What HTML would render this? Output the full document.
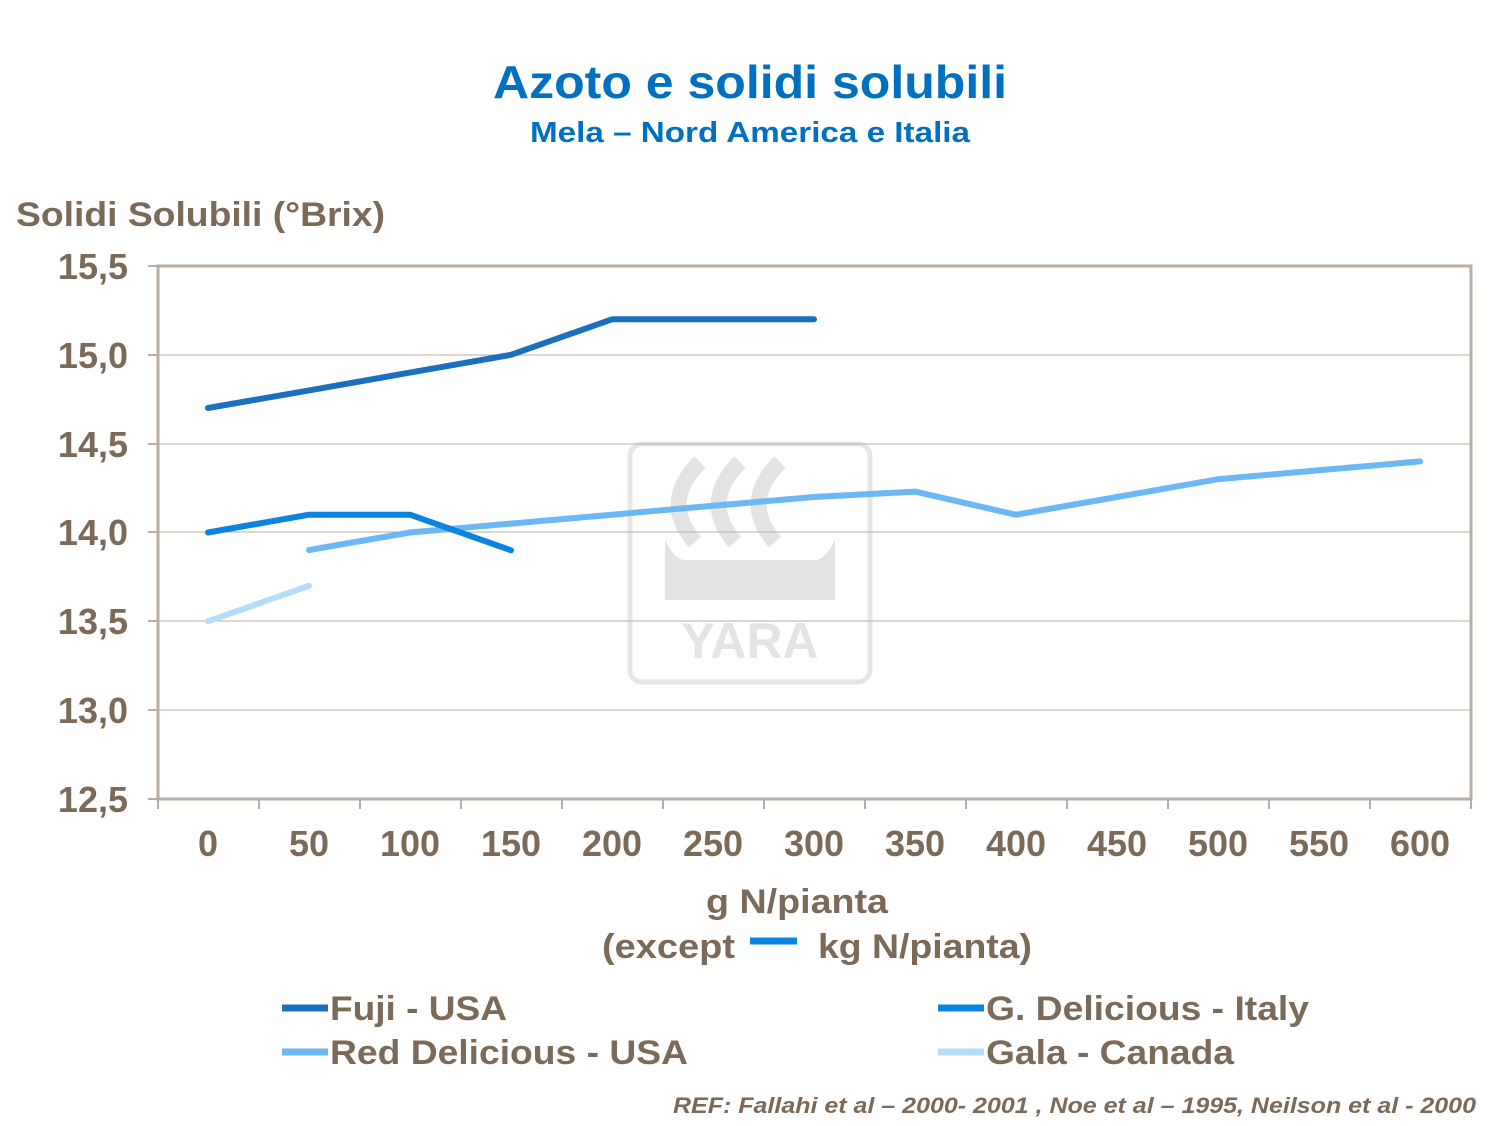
<!DOCTYPE html>
<html><head><meta charset="utf-8"><style>
body{margin:0;background:#fff;}
svg{display:block;font-family:"Liberation Sans",Arial,sans-serif;font-weight:bold;}
</style></head><body>
<svg width="1500" height="1126" viewBox="0 0 1500 1126">
<text x="493" y="98" font-size="46" fill="#0070C0" textLength="514" lengthAdjust="spacingAndGlyphs">Azoto e solidi solubili</text>
<text x="530" y="142" font-size="29" fill="#0070C0" textLength="440" lengthAdjust="spacingAndGlyphs">Mela – Nord America  e Italia</text>
<text x="16" y="226" font-size="34" fill="#7b6a58" textLength="369" lengthAdjust="spacingAndGlyphs">Solidi Solubili (°Brix)</text>
<!-- watermark -->
<g opacity="0.9">
<rect x="630" y="444" width="240" height="238" rx="12" fill="none" stroke="#e4e4e4" stroke-width="5"/>
<path d="M700 462 q-40 40 -5 80" stroke="#e0e0e0" stroke-width="16" fill="none"/>
<path d="M740 462 q-40 40 -5 80" stroke="#e0e0e0" stroke-width="16" fill="none"/>
<path d="M780 462 q-40 40 -5 80" stroke="#e0e0e0" stroke-width="16" fill="none"/>
<path d="M665 540 q10 20 20 20 l130 0 q10 0 20 -20 l0 60 l-170 0 z" fill="#e0e0e0"/>
<text x="750" y="658" text-anchor="middle" font-size="50" fill="#e2e2e2">YARA</text>
</g>
<!-- grid -->
<g stroke="#b8ada0" stroke-width="1">
<line x1="158" y1="355" x2="1471" y2="355"/>
<line x1="158" y1="444" x2="1471" y2="444"/>
<line x1="158" y1="532" x2="1471" y2="532"/>
<line x1="158" y1="621" x2="1471" y2="621"/>
<line x1="158" y1="710" x2="1471" y2="710"/>
</g>
<rect x="158" y="266" width="1313" height="533" fill="none" stroke="#b8ada0" stroke-width="3"/>
<g stroke="#b8ada0" stroke-width="2">
<line x1="148" y1="266" x2="158" y2="266"/><line x1="148" y1="355" x2="158" y2="355"/><line x1="148" y1="444" x2="158" y2="444"/><line x1="148" y1="532" x2="158" y2="532"/><line x1="148" y1="621" x2="158" y2="621"/><line x1="148" y1="710" x2="158" y2="710"/><line x1="148" y1="799" x2="158" y2="799"/>
<line x1="158" y1="799" x2="158" y2="809"/><line x1="259" y1="799" x2="259" y2="809"/><line x1="360" y1="799" x2="360" y2="809"/><line x1="461" y1="799" x2="461" y2="809"/><line x1="562" y1="799" x2="562" y2="809"/><line x1="663" y1="799" x2="663" y2="809"/><line x1="764" y1="799" x2="764" y2="809"/><line x1="865" y1="799" x2="865" y2="809"/><line x1="966" y1="799" x2="966" y2="809"/><line x1="1067" y1="799" x2="1067" y2="809"/><line x1="1168" y1="799" x2="1168" y2="809"/><line x1="1269" y1="799" x2="1269" y2="809"/><line x1="1370" y1="799" x2="1370" y2="809"/><line x1="1471" y1="799" x2="1471" y2="809"/>
</g>
<g font-size="36" fill="#7b6a58" text-anchor="end">
<text x="128" y="279">15,5</text><text x="128" y="368">15,0</text><text x="128" y="457">14,5</text><text x="128" y="545">14,0</text><text x="128" y="634">13,5</text><text x="128" y="723">13,0</text><text x="128" y="812">12,5</text>
</g>
<g font-size="36" fill="#7b6a58" text-anchor="middle">
<text x="208" y="856">0</text><text x="309" y="856">50</text><text x="410" y="856">100</text><text x="511" y="856">150</text><text x="612" y="856">200</text><text x="713" y="856">250</text><text x="814" y="856">300</text><text x="915" y="856">350</text><text x="1016" y="856">400</text><text x="1117" y="856">450</text><text x="1218" y="856">500</text><text x="1319" y="856">550</text><text x="1420" y="856">600</text>
</g>
<text x="706" y="913" font-size="34" fill="#7b6a58" textLength="182" lengthAdjust="spacingAndGlyphs">g N/pianta</text>
<text x="602" y="958" font-size="34" fill="#7b6a58" textLength="133" lengthAdjust="spacingAndGlyphs">(except</text>
<line x1="750" y1="941" x2="797" y2="941" stroke="#0a84e0" stroke-width="7"/>
<text x="818" y="958" font-size="34" fill="#7b6a58" textLength="214" lengthAdjust="spacingAndGlyphs">kg N/pianta)</text>
<!-- series -->
<g fill="none" stroke-width="6" stroke-linejoin="round" stroke-linecap="round">
<polyline stroke="#6cb8f5" points="309,550 410,532.5 511,523.6 612,514.7 713,505.8 814,497 915,491.6 1016,514.7 1117,497 1218,479.2 1319,470.3 1420,461.4"/>
<polyline stroke="#b5dcfa" points="208,621.3 309,585.8"/>
<polyline stroke="#0a84e0" points="208,532.5 309,514.7 410,514.7 511,550.3"/>
<polyline stroke="#1a6fbf" points="208,408 309,390.4 410,372.6 511,354.8 612,319.3 713,319.3 814,319.3"/>
</g>
<!-- legend -->
<g stroke-width="7">
<line x1="282" y1="1008" x2="328" y2="1008" stroke="#1a6fbf"/>
<line x1="938" y1="1008" x2="984" y2="1008" stroke="#0a84e0"/>
<line x1="282" y1="1052" x2="328" y2="1052" stroke="#6cb8f5"/>
<line x1="938" y1="1052" x2="984" y2="1052" stroke="#b5dcfa"/>
</g>
<g font-size="34" fill="#7b6a58">
<text x="330" y="1020" textLength="177" lengthAdjust="spacingAndGlyphs">Fuji - USA</text>
<text x="986" y="1020" textLength="323" lengthAdjust="spacingAndGlyphs">G. Delicious - Italy</text>
<text x="330" y="1064" textLength="358" lengthAdjust="spacingAndGlyphs">Red Delicious - USA</text>
<text x="986" y="1064" textLength="248" lengthAdjust="spacingAndGlyphs">Gala - Canada</text>
</g>
<text x="673" y="1113" font-size="22" font-style="italic" fill="#7b6a58" textLength="803" lengthAdjust="spacingAndGlyphs">REF: Fallahi  et al – 2000- 2001 ,  Noe et al – 1995, Neilson et al - 2000</text>
</svg>
</body></html>
